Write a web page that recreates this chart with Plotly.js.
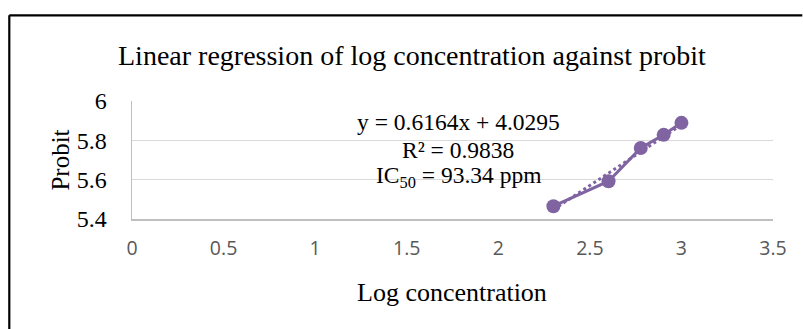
<!DOCTYPE html>
<html>
<head>
<meta charset="utf-8">
<script src="https://cdn.plot.ly/plotly-3.0.1.min.js"></script>
<style>html,body{margin:0;padding:0;background:#fff;}#chart{width:803px;height:329px;}</style>
</head>
<body>
<div id="chart"></div>
<script>
const logConcentration = [2.301, 2.602, 2.778, 2.903, 3.0];
const probit = [5.465, 5.592, 5.761, 5.828, 5.889];
const slope = 0.6164;
const intercept = 4.0295;
const xTicks = [0, 0.5, 1, 1.5, 2, 2.5, 3, 3.5];
const yTicks = [5.4, 5.6, 5.8, 6];
const eqLines = ["y = 0.6164x + 4.0295", "R² = 0.9838", "IC<sub>50</sub> = 93.34 ppm"];

const trendX = [logConcentration[0], logConcentration[logConcentration.length - 1]];
const trendY = trendX.map(x => slope * x + intercept);

const purple = '#8064A2';
const serif = 'Liberation Serif, Times New Roman, serif';

const traces = [
  {x: trendX, y: trendY, mode: 'lines', line: {color: purple, width: 3, dash: 'dot'}, hoverinfo: 'skip'},
  {x: logConcentration, y: probit, mode: 'lines+markers', line: {color: purple, width: 3},
   marker: {color: purple, size: 14}}
];

const plotL = 131.7, plotR = 772.7, plotT = 100.7, plotB = 218.7;
const pw = plotR - plotL, ph = plotB - plotT;
const px = v => (v - plotL) / pw;
const py = v => (plotB - v) / ph;

const annY = [121.7, 149.5, 177];
const annotations = eqLines.map((t, i) => ({
  text: t, xref: 'paper', yref: 'paper', x: px(458), y: py(annY[i]),
  xanchor: 'center', yanchor: 'middle', showarrow: false,
  font: {family: serif, size: 23.5, color: '#000'}
}));
annotations.push({
  text: 'Linear regression of log concentration against probit', xref: 'paper', yref: 'paper',
  x: px(412), y: py(55), xanchor: 'center', yanchor: 'middle', showarrow: false,
  font: {family: serif, size: 28, color: '#000'}
});
annotations.push({
  text: 'Log concentration', xref: 'paper', yref: 'paper',
  x: px(452), y: py(292), xanchor: 'center', yanchor: 'middle', showarrow: false,
  font: {family: serif, size: 26, color: '#000'}
});
annotations.push({
  text: 'Probit', xref: 'paper', yref: 'paper', textangle: -90,
  x: px(60), y: py(160), xanchor: 'center', yanchor: 'middle', showarrow: false,
  font: {family: serif, size: 25, color: '#000'}
});

const layout = {
  width: 803, height: 329,
  margin: {l: plotL, r: 803 - plotR, t: plotT, b: 329 - plotB, pad: 0},
  paper_bgcolor: '#fff', plot_bgcolor: '#fff',
  showlegend: false,
  xaxis: {
    range: [0, 3.5], tickvals: xTicks, ticktext: xTicks.map(String),
    showgrid: false, zeroline: false, showline: true, linecolor: '#bfbfbf', linewidth: 1.5,
    ticks: '', ticklabelstandoff: 11,
    tickfont: {family: 'Open Sans, Liberation Sans, sans-serif', size: 19.5, color: '#595959'}
  },
  yaxis: {
    range: [5.4, 6], tickvals: yTicks, ticktext: ['5.4', '5.6', '5.8', '6'],
    showgrid: true, gridcolor: '#d9d9d9', gridwidth: 1.5, zeroline: false,
    showline: true, linecolor: '#bfbfbf', linewidth: 1.5, ticks: '',
    tickfont: {family: serif, size: 24, color: '#000'},
    ticklabelstandoff: 19
  },
  annotations: annotations,
  shapes: [
    {type: 'line', xref: 'paper', yref: 'paper', x0: px(9), x1: px(802), y0: py(15), y1: py(15),
     line: {color: '#000', width: 2.2}},
    {type: 'line', xref: 'paper', yref: 'paper', x0: px(9), x1: px(9), y0: py(15), y1: py(340),
     line: {color: '#000', width: 2.2}}
  ]
};

Plotly.newPlot('chart', traces, layout, {displayModeBar: false, staticPlot: true});
</script>
</body>
</html>
